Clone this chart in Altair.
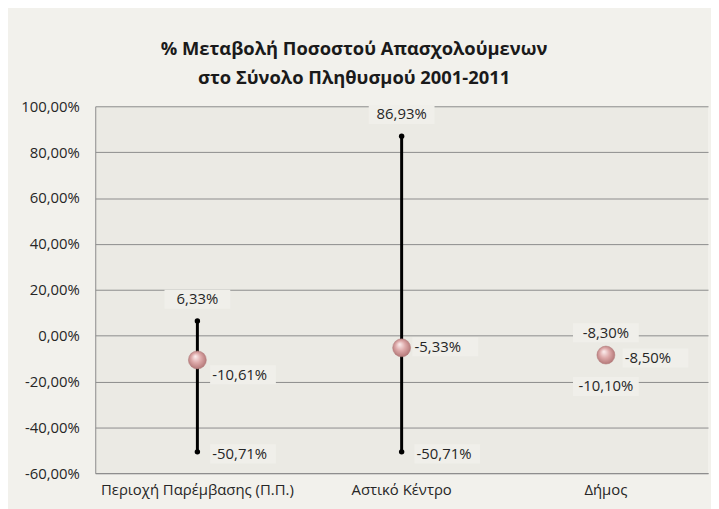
import altair as alt
import pandas as pd

cats = ["Περιοχή Παρέμβασης (Π.Π.)", "Αστικό Κέντρο", "Δήμος"]
high = [6.33, 86.93, -8.30]
low = [-50.71, -50.71, -10.10]
mid = [-10.61, -5.33, -8.50]
y_ticks = [-60, -40, -20, 0, 20, 40, 60, 80, 100]

df = pd.DataFrame({"cat": cats, "high": high, "low": low, "mid": mid})

FONT = "Open Sans"
BG = "#f2f1ec"
PLOT_BG = "#ebeae4"
BOX = "#f0efea"
FS = 15
FMT = "replace(replace(format({v}, '.2f'), '.', ','), '\u2212', '-') + '%'"

xenc = alt.X("cat:N", sort=cats, title=None,
             axis=alt.Axis(labelAngle=0, labelFontSize=FS, labelColor="#262626", labelFont=FONT,
                           labelLimit=400, ticks=False, domain=True, domainColor="#8c8c8c",
                           labelPadding=10))
yscale = alt.Scale(domain=[-60, 100], nice=False)

base = alt.Chart(df)

rule = base.mark_rule(color="black", strokeWidth=3).encode(
    x=xenc,
    y=alt.Y("low:Q", scale=yscale, title=None,
            axis=alt.Axis(values=y_ticks, grid=True, gridColor="#8c8c8c", gridWidth=1,
                          domainColor="#8c8c8c", ticks=False, labelFontSize=FS,
                          labelColor="#262626", labelFont=FONT, labelPadding=16,
                          labelExpr=FMT.format(v="datum.value"))),
    y2="high:Q",
)

dots_hi = base.mark_circle(color="black", size=30, opacity=1).encode(x=xenc, y=alt.Y("high:Q", scale=yscale))
dots_lo = base.mark_circle(color="black", size=30, opacity=1).encode(x=xenc, y=alt.Y("low:Q", scale=yscale))

sphere = base.mark_circle(
    size=330, opacity=1,
    color=alt.RadialGradient(gradient="radial", x1=0.38, y1=0.3, r1=0.0, x2=0.5, y2=0.5, r2=0.6,
                             stops=[alt.GradientStop(offset=0, color="#fdf1f1"),
                                    alt.GradientStop(offset=0.45, color="#deaaaa"),
                                    alt.GradientStop(offset=1, color="#a86a6a")]),
    stroke="#b07878", strokeWidth=0.5,
).encode(x=xenc, y=alt.Y("mid:Q", scale=yscale))

BOX_SHAPE = "M-1,-0.29L1,-0.29L1,0.29L-1,0.29Z"


def label_layer(field, sel, dx, dy, align):
    src = base.transform_filter(alt.FieldOneOfPredicate(field="cat", oneOf=sel)).transform_calculate(
        lbl=FMT.format(v=f"datum.{field}")
    )
    bx = dx + 31 if align == "left" else dx
    box = src.mark_point(shape=BOX_SHAPE, size=4400, filled=True, fill=BOX, opacity=1,
                         strokeWidth=0, xOffset=bx, yOffset=dy).encode(
        x=xenc, y=alt.Y(f"{field}:Q", scale=yscale))
    txt = src.mark_text(align=align, baseline="middle", dx=dx, dy=dy, font=FONT, fontSize=FS,
                        color="#262626").encode(
        x=xenc, y=alt.Y(f"{field}:Q", scale=yscale), text="lbl:N")
    return [box, txt]


labels = []
labels += label_layer("high", cats, 0, -22, "center")
labels += label_layer("mid", [cats[0]], 15, 15, "left")
labels += label_layer("mid", [cats[1]], 13, -1, "left")
labels += label_layer("mid", [cats[2]], 19, 3, "left")
labels += label_layer("low", [cats[0], cats[1]], 15, 2, "left")
labels += label_layer("low", [cats[2]], 0, 28, "center")

chart = alt.layer(rule, *labels, dots_hi, dots_lo, sphere).properties(
    width=618, height=370,
    autosize=alt.AutoSizeParams(type="none"),
    padding={"left": 88, "top": 97, "right": 3, "bottom": 34},
    title=alt.TitleParams(
        ["% Μεταβολή Ποσοστού Απασχολούμενων", "στο Σύνολο Πληθυσμού 2001-2011"],
        font=FONT, fontSize=18.5, fontWeight="bold", color="#1a1a1a",
        anchor="middle", dx=-48, offset=12, lineHeight=29),
).configure(background=BG).configure_view(fill=PLOT_BG, strokeWidth=0)

chart.save("out.html", embed_options={"renderer": "svg", "actions": False})
